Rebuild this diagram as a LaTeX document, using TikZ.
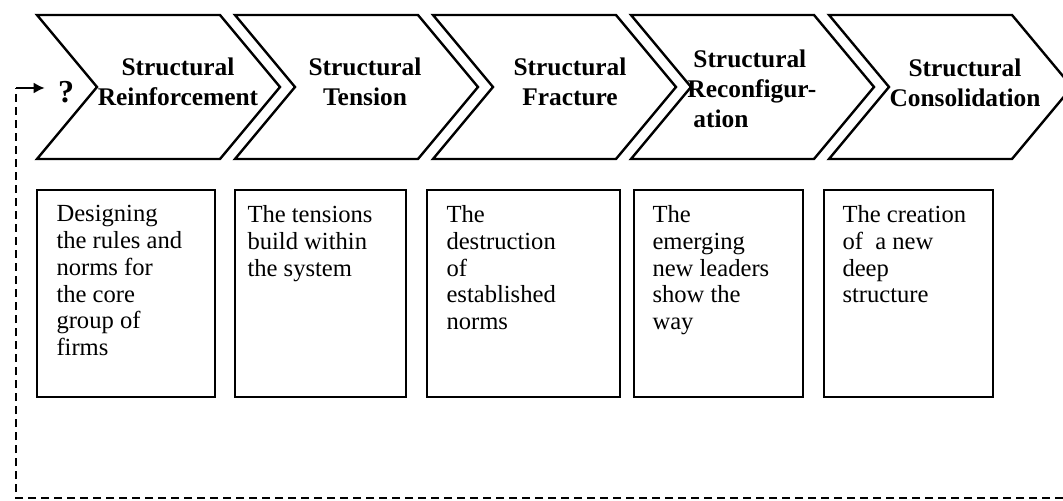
\documentclass[tikz,border=0pt]{standalone}
\usepackage{fontspec}
\setmainfont{Liberation Serif}
\usetikzlibrary{arrows.meta}

\begin{document}
\begin{tikzpicture}[
    x=0.5pt, y=-0.5pt,
    chevron/.style={draw,line width=1.2pt,line join=miter},
    title/.style={font=\fontsize{12.7}{15}\selectfont\bfseries,align=center,inner sep=0pt},
    descbox/.style={draw,line width=0.9pt,minimum height=103.5pt,inner sep=0pt},
    desc/.style={font=\fontsize{12.3}{13.4}\selectfont,align=left,anchor=north west,inner sep=0pt},
    arrow/.style={-{Latex[length=5.5pt,width=5.5pt]},line width=0.8pt},
    feedback/.style={line width=0.6pt,dash pattern=on 4pt off 2.5pt}
]
\path[use as bounding box] (0,0) rectangle (1063,501);
\clip (0,0) rectangle (1063,501);

% the five stages
\foreach \xl in {37,235,433,631,829}
    \draw[chevron] (\xl,15) -- ++(183,0) -- ++(60,72) -- ++(-60,72)
        -- ++(-183,0) -- ++(60,-72) -- cycle;
\node[title] (t1) at (178,82) {Structural\\Reinforcement};
\node[title] (t2) at (365,82) {Structural\\Tension};
\node[title] (t3) at (570,82) {Structural\\Fracture};
\node[title,align=left,anchor=west] (t4) at (687,89)
    {\hspace{3pt}Structural\\Reconfigur-\\\hspace{3pt}ation};
\node[title] (t5) at (965,83) {Structural\\Consolidation};

% descriptions
\foreach \i/\xl/\xr in {1/37/215,2/235/406,3/427/620,4/634/803,5/824/993}
    \node[descbox,minimum width={(\xr-\xl)*0.5pt}] (b\i) at ({(\xl+\xr)/2},293.5) {};
\foreach \i/\dx/\txt in {
    1/10/{Designing\\the rules and\\norms for\\the core\\group of\\firms},
    2/6.5/{The tensions\\build within\\the system},
    3/10/{The\\destruction\\of\\established\\norms},
    4/9.5/{The\\emerging\\new leaders\\show the\\way},
    5/9.5/{The creation\\of\ \ a new\\deep\\structure}}
    \node[desc] (d\i) at ([xshift=\dx pt,yshift=-8pt]b\i.north west) {\txt};

% feedback loop
\node[title,font=\fontsize{16}{18}\selectfont\bfseries] (q) at (66,92) {?};
\coordinate (corner) at (16,88);
\coordinate (loopin) at (1063,498);
\draw[feedback] (loopin) -| (corner);
\draw[arrow,shorten >=6.5pt] (corner) -- (corner -| q.west);
\end{tikzpicture}
\end{document}
